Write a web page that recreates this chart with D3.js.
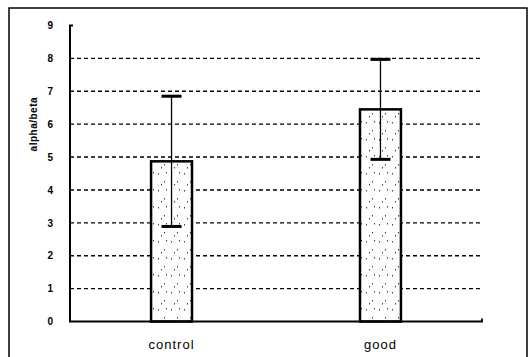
<!DOCTYPE html>
<html><head><meta charset="utf-8">
<script src="https://cdn.jsdelivr.net/npm/d3@7"></script>
<style>body{margin:0;background:#fff}svg{display:block}text{font-family:"Liberation Sans",Arial,sans-serif;fill:#000}</style>
</head><body><svg id="c" width="530" height="357"></svg>
<script>
const categories = ["control", "good"];
const means = [4.87, 6.45];
const errors = [1.98, 1.52];
const yTicks = [0,1,2,3,4,5,6,7,8,9];
const yLabel = "alpha/beta";

const svg = d3.select("#c");
const defs = svg.append("defs");
const pat = defs.append("pattern").attr("id","speck").attr("patternUnits","userSpaceOnUse").attr("width",13).attr("height",17);
pat.append("rect").attr("width",13).attr("height",17).attr("fill","#fff");
[[2,3],[8,11],[10,2],[5,14]].forEach(([x,y])=>pat.append("rect").attr("x",x).attr("y",y).attr("width",1).attr("height",1.5).attr("fill","#444"));

// outer frame
svg.append("path").attr("d","M9,360 L9,8 L527,8 L527,360").attr("fill","none").attr("stroke","#000").attr("stroke-width",1.5);

const x = d3.scaleBand().domain(categories).range([70,482]).paddingInner(0.804).paddingOuter(0.388);
const y = d3.scaleLinear().domain([0,9]).range([321.5,25.5]);

// gridlines
svg.append("g").selectAll("line").data(yTicks.filter(t=>t>0 && t<9)).join("line")
  .attr("x1",70).attr("x2",482).attr("y1",d=>y(d)).attr("y2",d=>y(d))
  .attr("stroke","#000").attr("stroke-width",1.4).attr("stroke-dasharray","4,3");

// y axis
const yAxis = d3.axisLeft(y).tickValues(yTicks).tickSize(0).tickPadding(17);
const gy = svg.append("g").attr("transform","translate(70,0)").call(yAxis);
gy.select(".domain").remove();
gy.selectAll("text").attr("font-size",10).attr("font-weight","bold");
svg.append("path").attr("d",`M73,${y(9)} L70,${y(9)} L70,${y(0)}`).attr("fill","none").attr("stroke","#000").attr("stroke-width",2);

// bars
svg.append("g").selectAll("rect").data(categories).join("rect")
  .attr("x",d=>x(d)).attr("width",x.bandwidth())
  .attr("y",(d,i)=>y(means[i])).attr("height",(d,i)=>y(0)-y(means[i]))
  .attr("fill","url(#speck)").attr("stroke","#000").attr("stroke-width",2.5);

// error bars
const eb = svg.append("g").selectAll("g").data(categories).join("g");
eb.append("line").attr("x1",d=>x(d)+x.bandwidth()/2).attr("x2",d=>x(d)+x.bandwidth()/2)
  .attr("y1",(d,i)=>y(means[i]-errors[i])).attr("y2",(d,i)=>y(means[i]+errors[i]))
  .attr("stroke","#000").attr("stroke-width",1.3);
["-","+"].forEach(s=>{
  eb.append("line").attr("x1",d=>x(d)+x.bandwidth()/2-10).attr("x2",d=>x(d)+x.bandwidth()/2+10)
    .attr("y1",(d,i)=>y(s==="+"?means[i]+errors[i]:means[i]-errors[i]))
    .attr("y2",(d,i)=>y(s==="+"?means[i]+errors[i]:means[i]-errors[i]))
    .attr("stroke","#000").attr("stroke-width",3);
});

// x axis
const gx = svg.append("g").attr("transform",`translate(0,${y(0)})`).call(d3.axisBottom(x).tickSize(0).tickPadding(18));
gx.select(".domain").attr("d",`M69,0 L482,0 L482,-3`).attr("stroke","#000").attr("stroke-width",1.8).attr("fill","none");
gx.selectAll("text").attr("font-size",13).attr("letter-spacing","1px");

// y label
svg.append("text").attr("transform",`translate(37,${y(6)}) rotate(-90)`).attr("text-anchor","middle")
  .attr("font-size",10).attr("font-weight","bold").attr("letter-spacing","0.5px").text(yLabel);
</script></body></html>
